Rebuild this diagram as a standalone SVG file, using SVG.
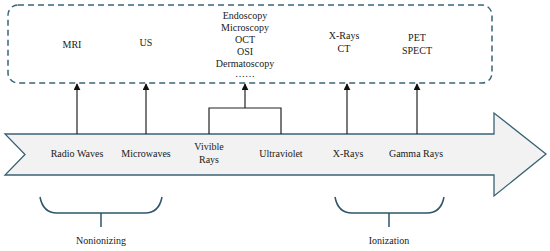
<svg xmlns="http://www.w3.org/2000/svg" width="550" height="251" viewBox="0 0 550 251">
<style>
text{font-family:"Liberation Serif","Times New Roman",serif;font-size:10px;fill:#1a1a1a;text-anchor:middle}
.conn{stroke:#222;stroke-width:1.2;fill:none}
.brace{stroke:#2e5568;stroke-width:1.5;fill:none}
</style>
<defs>
<marker id="ah" viewBox="0 0 10 10" refX="9" refY="5" markerWidth="7" markerHeight="7" markerUnits="userSpaceOnUse" orient="auto">
<path d="M0,0 L10,5 L0,10 z" fill="#111"/>
</marker>
</defs>
<rect width="550" height="251" fill="#fff"/>
<g id="spectrum">
<path d="M5,134 L494,134 L494,113 L546,154 L494,196 L494,175 L5,175 L25,154.5 Z" fill="#f2f2f2" stroke="#3a6275" stroke-width="1.3"/>
<text x="77" y="157">Radio Waves</text>
<text x="146" y="157">Microwaves</text>
<text x="209" y="150">Vivible</text>
<text x="209" y="163">Rays</text>
<text x="281" y="157">Ultraviolet</text>
<text x="348" y="157">X-Rays</text>
<text x="416" y="157">Gamma Rays</text>
</g>
<g id="modalities">
<rect x="8" y="5" width="484" height="78" rx="10" ry="10" fill="none" stroke="#3a6478" stroke-width="1.5" stroke-dasharray="6,4"/>
<text x="72" y="48">MRI</text>
<text x="146" y="46">US</text>
<text x="245" y="19">Endoscopy</text>
<text x="245" y="31">Microscopy</text>
<text x="245" y="43">OCT</text>
<text x="245" y="55">OSI</text>
<text x="245" y="67">Dermatoscopy</text>
<text x="245" y="77">……</text>
<text x="344" y="39">X-Rays</text>
<text x="344" y="52">CT</text>
<text x="417" y="41">PET</text>
<text x="417" y="54">SPECT</text>
</g>
<g id="connectors">
<line class="conn" x1="77" y1="134" x2="77" y2="84" marker-end="url(#ah)"/>
<line class="conn" x1="146" y1="134" x2="146" y2="84" marker-end="url(#ah)"/>
<polyline class="conn" points="209,134 209,108 281,108 281,134"/>
<line class="conn" x1="245" y1="108" x2="245" y2="84" marker-end="url(#ah)"/>
<line class="conn" x1="347" y1="134" x2="347" y2="84" marker-end="url(#ah)"/>
<line class="conn" x1="417" y1="134" x2="417" y2="84" marker-end="url(#ah)"/>
</g>
<g id="nonionizing">
<path class="brace" d="M40,197 Q43,213 57,213 L145,213 Q159,213 162,197 M101,213 L101,227"/>
<text x="101" y="244">Nonionizing</text>
</g>
<g id="ionization">
<path class="brace" d="M335,197 Q338,213 352,213 L427,213 Q441,213 444,197 M389,213 L389,227"/>
<text x="389" y="244">Ionization</text>
</g>
</svg>
